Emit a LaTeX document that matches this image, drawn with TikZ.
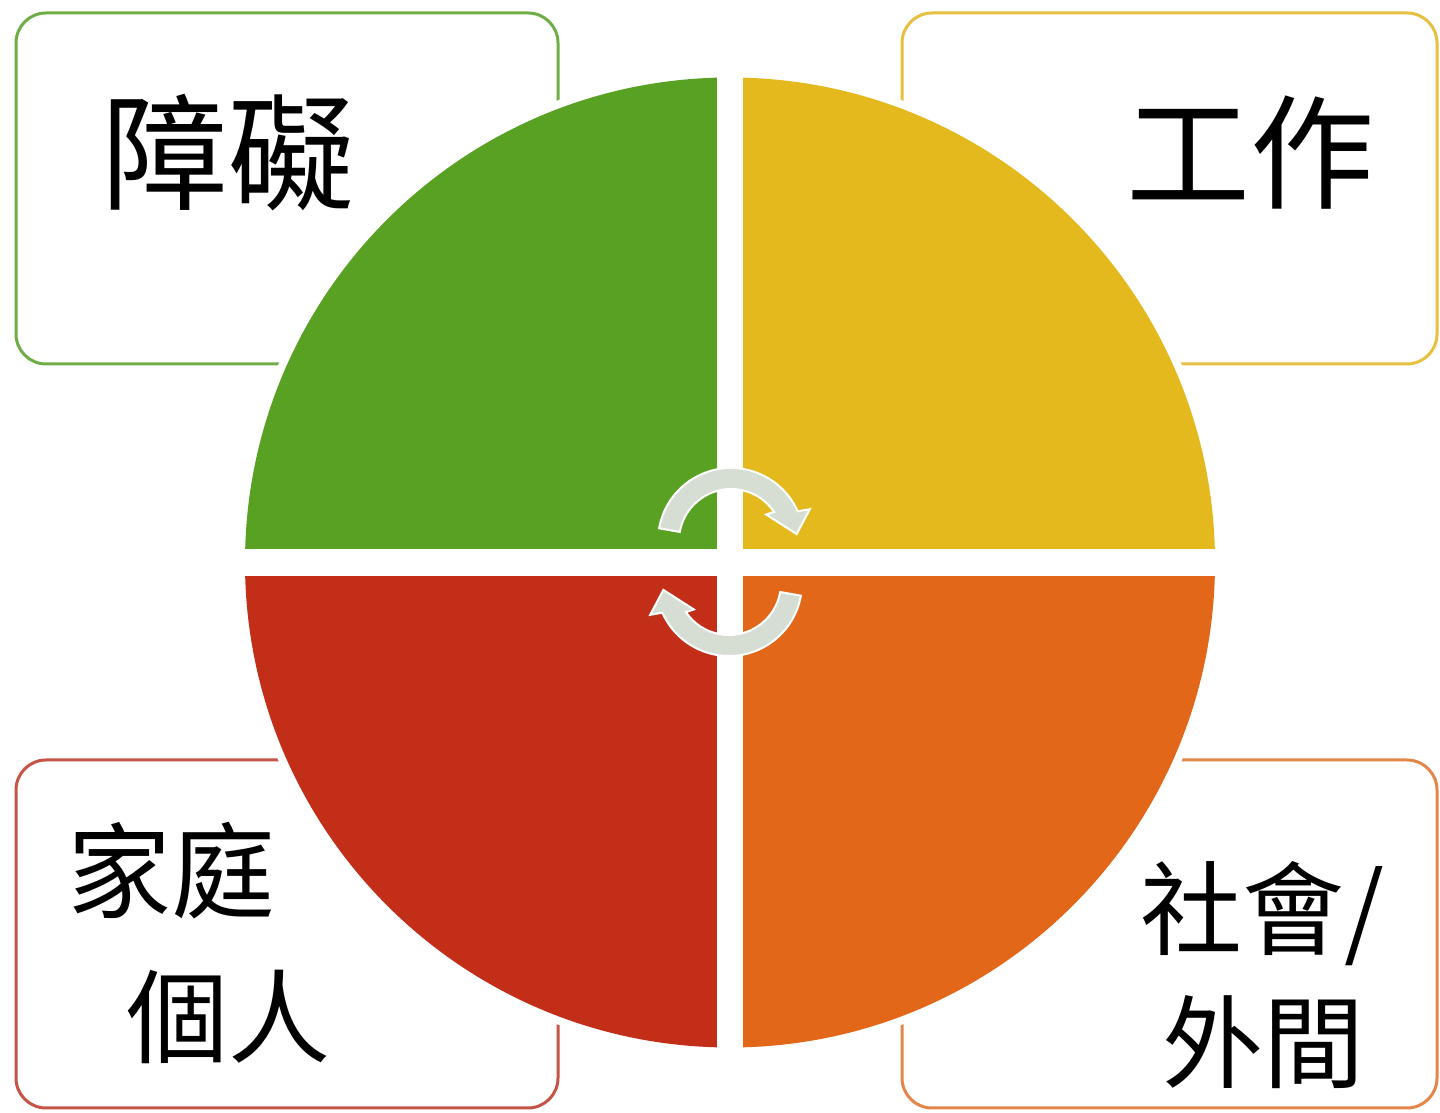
\documentclass[tikz,border=0pt]{standalone}
\usepackage{fontspec}
\newfontfamily\cjk{Noto Sans CJK TC}
\definecolor{qgreen}{RGB}{88,161,34}
\definecolor{qyellow}{RGB}{228,185,30}
\definecolor{qred}{RGB}{194,46,23}
\definecolor{qorange}{RGB}{227,103,25}
\definecolor{bgreen}{RGB}{112,173,71}
\definecolor{byellow}{RGB}{230,192,64}
\definecolor{bred}{RGB}{196,85,70}
\definecolor{borange}{RGB}{228,134,74}
\definecolor{arrowfill}{RGB}{214,222,212}
\begin{document}
\begin{tikzpicture}[x=1pt,y=1pt,
  box/.style={line width=3pt, rounded corners=30pt, fill=white},
  cyclearrow/.style={fill=arrowfill, draw=white, line width=2pt, line join=miter},
  lbl/.style={font=\cjk, text=black, inner sep=0pt, anchor=center}]
\useasboundingbox (0,0) rectangle (1440,1113);
\fill[white] (0,0) rectangle (1440,1113);
% boxes
\draw[box, draw=bgreen]  (16,1100) rectangle (558,749);
\draw[box, draw=byellow] (902,1100) rectangle (1437,749);
\draw[box, draw=bred]    (16,353) rectangle (558,5);
\draw[box, draw=borange] (902,353) rectangle (1437,5);
% circle halo
\coordinate (c) at (730,550.5);
\fill[white] (c) circle[radius=493pt];
% quadrants
\fill[qgreen]  (c) -- ++(180:485pt) arc[start angle=180,end angle=90,radius=485pt] -- cycle;
\fill[qyellow] (c) -- ++(90:485pt) arc[start angle=90,end angle=0,radius=485pt] -- cycle;
\fill[qorange] (c) -- ++(0:485pt) arc[start angle=0,end angle=-90,radius=485pt] -- cycle;
\fill[qred]    (c) -- ++(-90:485pt) arc[start angle=-90,end angle=-180,radius=485pt] -- cycle;
% white cross
\fill[white] (717,50) rectangle (743,1050);
\fill[white] (230,537) rectangle (1230,564);
% cycle arrows
\begin{scope}[shift={(731,572)}]
\filldraw[cyclearrow] (170:73pt) arc[start angle=170,end angle=24,radius=73pt]
  -- (22:85pt) -- (6:66pt) -- (37:44pt) -- (34:52pt)
  arc[start angle=34,end angle=170,radius=52pt] -- cycle;
\end{scope}
\begin{scope}[shift={(729,530)}, rotate=180]
\filldraw[cyclearrow] (170:73pt) arc[start angle=170,end angle=24,radius=73pt]
  -- (22:85pt) -- (6:66pt) -- (37:44pt) -- (34:52pt)
  arc[start angle=34,end angle=170,radius=52pt] -- cycle;
\end{scope}
% labels
\node[lbl, font=\cjk\fontsize{126}{130}\selectfont] (t1) at (228,960) {障礙};
\node[lbl, font=\cjk\fontsize{124}{130}\selectfont] (t2) at (1250,960) {工作};
\node[lbl, font=\cjk\fontsize{104}{110}\selectfont] (t3a) at (171,242) {家庭};
\node[lbl, font=\cjk\fontsize{102}{110}\selectfont] (t3b) at (228,96) {個人};
\node[lbl, font=\cjk\fontsize{102}{110}\selectfont] (t4a) at (1262,199) {社會/};
\node[lbl, font=\cjk\fontsize{101}{110}\selectfont] (t4b) at (1263,71) {外間};
\end{tikzpicture}
\end{document}
